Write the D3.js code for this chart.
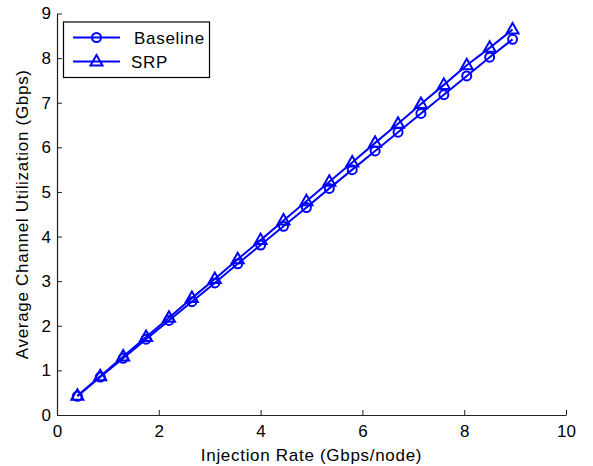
<!DOCTYPE html>
<html>
<head>
<meta charset="utf-8">
<script src="https://cdn.jsdelivr.net/npm/d3@7"></script>
<style>
  body { margin: 0; background: #fff; }
  text { font-family: "Liberation Sans", Arial, Helvetica, sans-serif; }
</style>
</head>
<body>
<div id="chart"></div>
<script>
// injection rate (Gbps/node)
const injection = [0.4, 0.85, 1.3, 1.75, 2.2, 2.65, 3.1, 3.55, 4.0, 4.45,
                   4.9, 5.35, 5.8, 6.25, 6.7, 7.15, 7.6, 8.05, 8.5, 8.95];
const baseline = [0.42, 0.85, 1.27, 1.70, 2.12, 2.54, 2.96, 3.39, 3.81, 4.23,
                  4.65, 5.08, 5.50, 5.92, 6.34, 6.76, 7.18, 7.60, 8.02, 8.42];
const srp = [0.43, 0.87, 1.31, 1.75, 2.18, 2.62, 3.05, 3.49, 3.92, 4.36,
             4.79, 5.23, 5.66, 6.10, 6.53, 6.97, 7.40, 7.84, 8.23, 8.64];
const xTicks = [0, 2, 4, 6, 8, 10];
const yTicks = [0, 1, 2, 3, 4, 5, 6, 7, 8, 9];

const W = 593, H = 466;
const margin = {top: 13.5, right: 27, bottom: 51, left: 57};
const blue = "#0000ff";
const fs = 17, ls = 0.7;

const svg = d3.select("#chart").append("svg")
    .attr("width", W).attr("height", H);

const x = d3.scaleLinear().domain([0, 10]).range([margin.left, W - margin.right]);
const y = d3.scaleLinear().domain([0, 9]).range([H - margin.bottom, margin.top]);

// axes, ticks pointing inward like matlab
const xAxis = svg.append("g")
    .attr("transform", `translate(0,${y(0)})`)
    .call(d3.axisBottom(x).tickValues(xTicks).tickSize(-5).tickPadding(10).tickSizeOuter(0));
const yAxis = svg.append("g")
    .attr("transform", `translate(${x(0)},0)`)
    .call(d3.axisLeft(y).tickValues(yTicks).tickSize(-5).tickPadding(6).tickSizeOuter(0));

[xAxis, yAxis].forEach(a => {
    a.select(".domain").attr("stroke", "#222").attr("stroke-width", 1.2);
    a.selectAll(".tick line").attr("stroke", "#222");
    a.selectAll(".tick text").attr("font-size", fs).attr("fill", "#000")
        .style("font-family", "'Liberation Sans', Arial, sans-serif");
});

svg.append("text")
    .attr("x", (x(0) + x(10)) / 2).attr("y", 461)
    .attr("text-anchor", "middle").attr("font-size", fs)
    .attr("letter-spacing", ls)
    .text("Injection Rate (Gbps/node)");

svg.append("text")
    .attr("transform", `translate(28,${(y(0) + y(9)) / 2}) rotate(-90)`)
    .attr("text-anchor", "middle").attr("font-size", fs)
    .attr("letter-spacing", ls)
    .text("Average Channel Utilization (Gbps)");

const series = [
    {name: "Baseline", values: baseline, marker: "circle"},
    {name: "SRP", values: srp, marker: "triangle"}
];

const line = d3.line().x(d => x(d[0])).y(d => y(d[1]));
const triPath = "M0,-6.5L6,4L-6,4Z";

function drawMarker(g, type, cx, cy) {
    if (type === "circle") {
        g.append("circle").attr("cx", cx).attr("cy", cy).attr("r", 4.5)
            .attr("fill", "none").attr("stroke", blue).attr("stroke-width", 2);
    } else {
        g.append("path").attr("d", triPath)
            .attr("transform", `translate(${cx},${cy})`)
            .attr("fill", "none").attr("stroke", blue).attr("stroke-width", 2)
            .attr("stroke-linejoin", "miter");
    }
}

series.forEach(s => {
    const pts = injection.map((v, i) => [v, s.values[i]]);
    const g = svg.append("g");
    g.append("path").datum(pts).attr("d", line)
        .attr("fill", "none").attr("stroke", blue).attr("stroke-width", 2);
    pts.forEach(p => drawMarker(g, s.marker, x(p[0]), y(p[1])));
});

// legend
const leg = svg.append("g");
leg.append("rect").attr("x", 63.5).attr("y", 22).attr("width", 146).attr("height", 55.5)
    .attr("fill", "#fff").attr("stroke", "#000").attr("stroke-width", 1.2);
series.forEach((s, i) => {
    const ly = 37.5 + i * 24;
    leg.append("line").attr("x1", 73).attr("x2", 120).attr("y1", ly).attr("y2", ly)
        .attr("stroke", blue).attr("stroke-width", 2);
    drawMarker(leg, s.marker, 96.5, ly);
    leg.append("text").attr("x", i === 0 ? 134 : 131).attr("y", ly + 6)
        .attr("font-size", fs).attr("letter-spacing", ls).text(s.name);
});
</script>
</body>
</html>
